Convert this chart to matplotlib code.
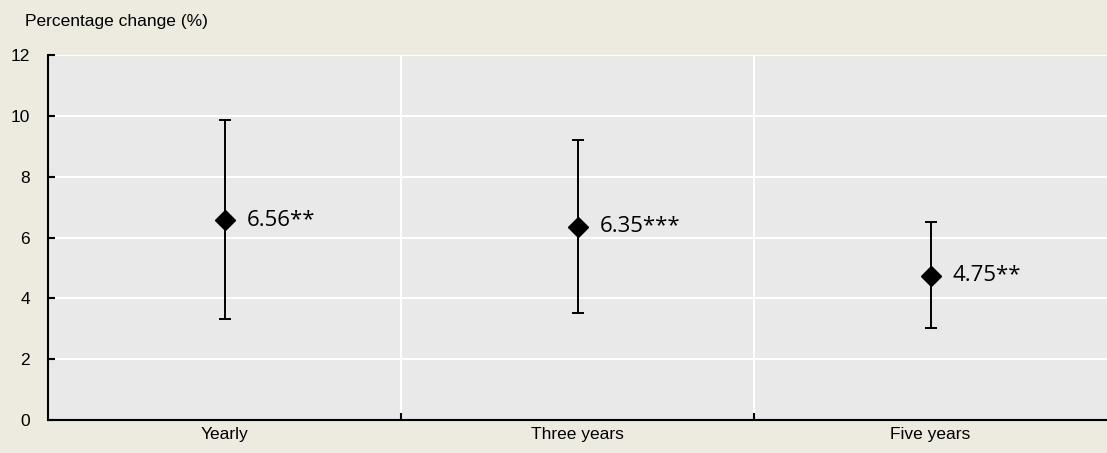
import matplotlib.pyplot as plt
import numpy as np

# Data
categories = ['Yearly', 'Three years', 'Five years']
estimates = [6.56, 6.35, 4.75]
lower = [3.32, 3.52, 3.03]
upper = [9.85, 9.20, 6.50]
labels = ['6.56**', '6.35***', '4.75**']

fig = plt.figure(figsize=(11.07, 4.53), dpi=100, facecolor='#EDEAE0')
ax = fig.add_axes([0.0434, 0.0728, 0.9566, 0.8058])
ax.set_facecolor('#E9E9E9')

x = np.arange(len(categories))
yerr = [np.array(estimates) - np.array(lower), np.array(upper) - np.array(estimates)]
ax.errorbar(x, estimates, yerr=yerr, fmt='D', color='black', markersize=10,
            ecolor='black', elinewidth=1.4, capsize=4.3, capthick=1.4, zorder=3)

for xi, yi, lab in zip(x, estimates, labels):
    ax.annotate(lab, (xi, yi), xytext=(16, 0), textcoords='offset points',
                va='center', ha='left', fontsize=16, family='Open Sans')

ax.set_xlim(-0.5, 2.5)
ax.set_ylim(0, 12)
ax.set_yticks(range(0, 13, 2))
ax.set_xticks(x)
ax.set_xticklabels(categories)

# category separators
ax.set_xticks([0.5, 1.5], minor=True)
ax.grid(axis='y', color='white', linewidth=1.5)
ax.grid(axis='x', which='minor', color='white', linewidth=1.5)
ax.set_axisbelow(True)

for s in ['top', 'right']:
    ax.spines[s].set_visible(False)
ax.spines['left'].set_color('black')
ax.spines['bottom'].set_color('black')
ax.spines['left'].set_linewidth(1.5)
ax.spines['bottom'].set_linewidth(1.5)

ax.tick_params(axis='x', which='major', length=0, pad=5, labelsize=12.5)
ax.tick_params(axis='x', which='minor', length=5, direction='in', width=1.5)
ax.tick_params(axis='y', length=5, width=1.5, direction='in', pad=13, labelsize=12.5)
for t in ax.get_xticklabels() + ax.get_yticklabels():
    t.set_family('Liberation Sans')

fig.text(0.023, 0.952, 'Percentage change (%)', fontsize=12.5,
         family='Liberation Sans', va='center')

fig.savefig('out.png', dpi=100, facecolor=fig.get_facecolor())
